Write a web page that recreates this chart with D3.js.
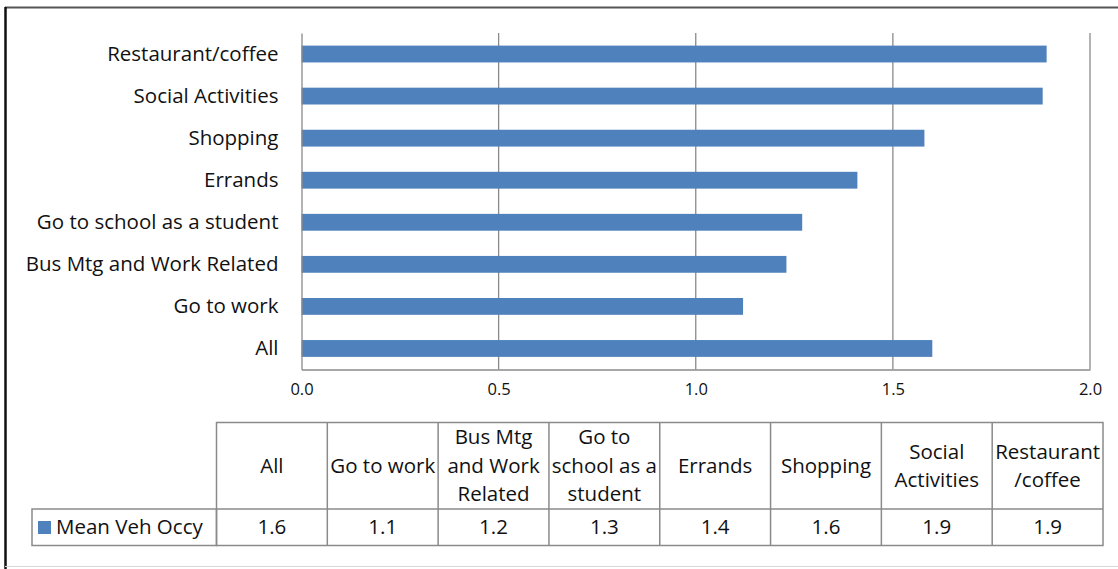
<!DOCTYPE html>
<html>
<head>
<meta charset="utf-8">
<script src="https://cdn.jsdelivr.net/npm/d3@7"></script>
<style>
  html, body { margin: 0; padding: 0; background: #fff; }
  svg { display: block; font-family: "Open Sans", Lato, sans-serif; }
</style>
</head>
<body>
<svg id="chart" width="1118" height="569"></svg>
<script>
// trip purposes, in table order (bottom bar first)
const purposes = ["All", "Go to work", "Bus Mtg and Work Related", "Go to school as a student",
  "Errands", "Shopping", "Social Activities", "Restaurant/coffee"];
// header text of the data table, one entry per line
const tableHeads = [["All"], ["Go to work"], ["Bus Mtg", "and Work", "Related"],
  ["Go to", "school as a", "student"], ["Errands"], ["Shopping"],
  ["Social", "Activities"], ["Restaurant", "/coffee"]];
// mean vehicle occupancy
const meanOcc = [1.60, 1.12, 1.23, 1.27, 1.41, 1.58, 1.88, 1.89];
const xTicks = [0, 0.5, 1, 1.5, 2];
const seriesName = "Mean Veh Occy";

const BLUE = "#4f81bd";
const GRID = "#8a8a8a";
const INK = "#111";
const FONT = "'Open Sans', Lato, sans-serif";

const svg = d3.select("#chart");

// outer frame (page is cropped at the top)
svg.append("line").attr("x1", 5).attr("x2", 1118).attr("y1", 7.5).attr("y2", 7.5)
  .attr("stroke", "#555").attr("stroke-width", 2);
svg.append("line").attr("x1", 5.5).attr("x2", 5.5).attr("y1", 7).attr("y2", 569)
  .attr("stroke", "#111").attr("stroke-width", 2.5);
svg.append("line").attr("x1", 5).attr("x2", 1118).attr("y1", 566.5).attr("y2", 566.5)
  .attr("stroke", "#d8d8d8").attr("stroke-width", 1);

const x = d3.scaleLinear().domain([0, 2]).range([301.5, 1090]);
const y = d3.scaleBand().domain(purposes.slice().reverse()).range([33, 369.5])
  .paddingInner(0.6).paddingOuter(0.3);

// gridlines + right edge
svg.append("g").selectAll("line").data(xTicks.slice(1)).join("line")
  .attr("x1", (d) => x(d)).attr("x2", (d) => x(d))
  .attr("y1", 33).attr("y2", 369.5)
  .attr("stroke", GRID).attr("stroke-width", 1.3);

// bars
svg.append("g").selectAll("rect").data(purposes).join("rect")
  .attr("x", x(0))
  .attr("y", (d) => y(d))
  .attr("width", (d, i) => x(meanOcc[i]) - x(0))
  .attr("height", y.bandwidth())
  .attr("fill", BLUE);

// value axis
const xAxis = svg.append("g").attr("transform", "translate(0,369.5)")
  .call(d3.axisBottom(x).tickValues(xTicks).tickFormat(d3.format(".1f")).tickSize(0).tickPadding(14));
xAxis.select(".domain").attr("stroke", GRID).attr("stroke-width", 1.3);
xAxis.selectAll("text").attr("font-size", 16.5).attr("fill", INK).attr("font-family", FONT);

// category axis
const yAxis = svg.append("g").attr("transform", "translate(301.5,0)")
  .call(d3.axisLeft(y).tickSize(0).tickPadding(23));
yAxis.select(".domain").attr("stroke", GRID).attr("stroke-width", 1.3);
yAxis.selectAll("text").attr("font-size", 20.5).attr("fill", INK).attr("font-family", FONT);

// data table
const tLeft = 216.5, tRight = 1103, tTop = 422.5, tMid = 509, tBot = 545.5, legLeft = 32;
const col = d3.scaleBand().domain(purposes).range([tLeft, tRight]);
const tbl = svg.append("g").attr("font-size", 20.5).attr("fill", INK);

tbl.append("rect").attr("x", tLeft).attr("y", tTop).attr("width", tRight - tLeft).attr("height", tBot - tTop)
  .attr("fill", "none").attr("stroke", GRID).attr("stroke-width", 1.5);
tbl.append("rect").attr("x", legLeft).attr("y", tMid).attr("width", tLeft - legLeft).attr("height", tBot - tMid)
  .attr("fill", "none").attr("stroke", GRID).attr("stroke-width", 1.5);
tbl.append("line").attr("x1", tLeft).attr("x2", tRight).attr("y1", tMid).attr("y2", tMid)
  .attr("stroke", GRID).attr("stroke-width", 1.5);
tbl.selectAll("line.sep").data(purposes.slice(1)).join("line").attr("class", "sep")
  .attr("x1", (d) => col(d)).attr("x2", (d) => col(d))
  .attr("y1", tTop).attr("y2", tBot)
  .attr("stroke", GRID).attr("stroke-width", 1.5);

const lineH = 28.5, headMid = (tTop + tMid) / 2;
tbl.selectAll("text.head").data(purposes).join("text").attr("class", "head")
  .attr("text-anchor", "middle")
  .each(function (d, i) {
    const lines = tableHeads[i];
    const y0 = headMid - ((lines.length - 1) * lineH) / 2;
    d3.select(this).selectAll("tspan").data(lines).join("tspan")
      .attr("x", col(d) + col.bandwidth() / 2)
      .attr("y", (_, k) => y0 + k * lineH)
      .attr("dy", "0.35em")
      .text((t) => t);
  });

const fmt = d3.format(".1f");
tbl.selectAll("text.val").data(purposes).join("text").attr("class", "val")
  .attr("text-anchor", "middle")
  .attr("x", (d) => col(d) + col.bandwidth() / 2)
  .attr("y", (tMid + tBot) / 2).attr("dy", "0.35em")
  .text((d, i) => fmt(meanOcc[i]));

tbl.append("rect").attr("x", 38).attr("y", 521).attr("width", 13).attr("height", 13).attr("fill", BLUE);
tbl.append("text").attr("x", 56).attr("y", (tMid + tBot) / 2).attr("dy", "0.35em").text(seriesName);
</script>
</body>
</html>
